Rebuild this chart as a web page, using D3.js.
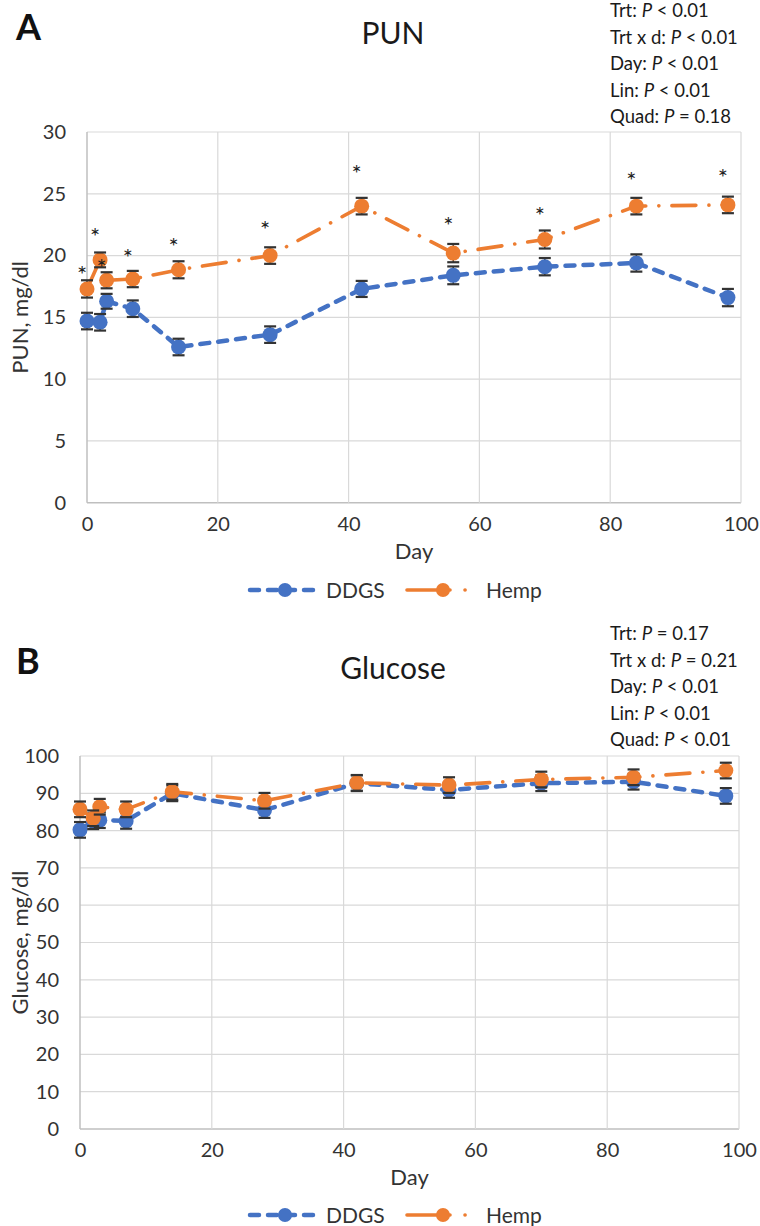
<!DOCTYPE html>
<html><head><meta charset="utf-8">
<script src="https://cdn.jsdelivr.net/npm/d3@7"></script>
<style>
body{margin:0;background:#fff}
svg{display:block}
text{font-family:Lato,"Open Sans",sans-serif}
</style>
</head><body>
<svg id="c" width="760" height="1226"></svg>
<script>
// ---------- DATA ----------
const days = [0, 2, 3, 7, 14, 28, 42, 56, 70, 84, 98];
const seriesNames = ["DDGS", "Hemp"];

const punDDGS    = [14.7, 14.6, 16.3, 15.7, 12.6, 13.6, 17.3, 18.4, 19.1, 19.4, 16.6];
const punDDGSse  = [0.67, 0.67, 0.6, 0.67, 0.67, 0.67, 0.65, 0.72, 0.7, 0.7, 0.7];
const punHemp    = [17.3, 19.65, 18.0, 18.1, 18.85, 20.0, 24.0, 20.2, 21.3, 24.0, 24.1];
const punHempSE  = [0.7, 0.6, 0.65, 0.66, 0.69, 0.67, 0.67, 0.74, 0.73, 0.67, 0.67];
const punStars   = [18.8, 21.9, 19.4, 20.2, 21.1, 22.5, 27.0, 22.8, 23.6, 26.45, 26.7];
const punTicksY  = [0, 5, 10, 15, 20, 25, 30];
const punStats   = [["Trt: ", "P", " < 0.01"], ["Trt x d: ", "P", " < 0.01"], ["Day:  ", "P", " < 0.01"], ["Lin: ", "P", " < 0.01"], ["Quad: ", "P", " = 0.18"]];

const gluDDGS    = [80.2, 82.5, 82.8, 82.6, 90.0, 85.5, 92.7, 90.9, 92.7, 93.1, 89.3];
const gluDDGSse  = [2.1, 2.1, 2.1, 2.1, 2.1, 2.1, 2.1, 2.1, 2.1, 2.1, 2.1];
const gluHemp    = [85.7, 83.3, 86.4, 85.7, 90.4, 88.0, 92.8, 92.2, 93.7, 94.3, 96.1];
const gluHempSE  = [2.1, 2.1, 2.1, 2.1, 2.1, 2.1, 2.1, 2.1, 2.1, 2.1, 2.1];
const gluTicksY  = [0, 10, 20, 30, 40, 50, 60, 70, 80, 90, 100];
const gluStats   = [["Trt: ", "P", " = 0.17"], ["Trt x d: ", "P", " = 0.21"], ["Day:  ", "P", " < 0.01"], ["Lin: ", "P", " < 0.01"], ["Quad: ", "P", " < 0.01"]];

const ticksX = [0, 20, 40, 60, 80, 100];

// ---------- STYLE ----------
const colors = {DDGS: "#4472C4", Hemp: "#ED7D31"};
const dashes = {DDGS: "9,9", Hemp: "24,13,0.1,13"};
const legendDashes = {DDGS: "9,9", Hemp: "43,15,0.1,30"};
const widths = {DDGS: 4.5, Hemp: 3.6};
const txt = "#333";

const svg = d3.select("#c");

function panel(o) {
  const g = svg.append("g");
  const x = d3.scaleLinear().domain([0, 100]).range([o.left, o.right]);
  const y = d3.scaleLinear().domain(o.yDomain).range([o.bottom, o.top]);

  // grid
  g.append("g").selectAll("line").data(o.ticksY).join("line")
    .attr("x1", o.left).attr("x2", o.right)
    .attr("y1", d => y(d)).attr("y2", d => y(d))
    .attr("stroke", d => d === 0 ? "#bfbfbf" : "#d9d9d9").attr("stroke-width", d => d === 0 ? 1.5 : 1.2);
  g.append("g").selectAll("line").data(ticksX).join("line")
    .attr("x1", d => x(d)).attr("x2", d => x(d))
    .attr("y1", o.top).attr("y2", o.bottom)
    .attr("stroke", d => d === 0 ? "#bfbfbf" : "#d9d9d9").attr("stroke-width", d => d === 0 ? 1.5 : 1.2);

  // axes labels via d3 axes
  const ax = g.append("g").attr("transform", `translate(0,${o.bottom})`)
    .call(d3.axisBottom(x).tickValues(ticksX).tickSize(0).tickPadding(14));
  ax.select(".domain").remove();
  ax.selectAll("text").attr("font-size", 20).attr("fill", txt).attr("font-family", "Lato");
  const ay = g.append("g").attr("transform", `translate(${o.left},0)`)
    .call(d3.axisLeft(y).tickValues(o.ticksY).tickSize(0).tickPadding(21));
  ay.select(".domain").remove();
  ay.selectAll("text").attr("font-size", 20).attr("fill", txt).attr("font-family", "Lato");

  // axis titles
  g.append("text").attr("x", (o.left + o.right) / 2).attr("y", o.bottom + 56)
    .attr("text-anchor", "middle").attr("font-size", 22).attr("fill", txt).text("Day");
  g.append("text").attr("transform", `translate(28,${(o.top + o.bottom) / 2}) rotate(-90)`)
    .attr("text-anchor", "middle").attr("font-size", 22).attr("fill", txt).text(o.yTitle);

  // titles
  g.append("text").attr("x", 16).attr("y", o.letterY).attr("font-size", 36).attr("font-weight", "bold")
    .attr("fill", "#111").text(o.letter);
  g.append("text").attr("x", 393).attr("y", o.titleY).attr("text-anchor", "middle")
    .attr("font-size", 30).attr("fill", "#1a1a1a").text(o.title);
  const st = g.append("g");
  o.stats.forEach((s, i) => {
    const t = st.append("text").attr("x", 610).attr("y", o.statsY + i * 26.5).attr("font-size", 18.5).attr("fill", "#1a1a1a");
    t.append("tspan").text(s[0]);
    t.append("tspan").attr("font-style", "italic").text(s[1]);
    t.append("tspan").text(s[2]);
  });

  // series
  const line = d3.line().x(d => x(d[0])).y(d => y(d[1]));
  o.series.forEach(s => {
    const pts = days.map((d, i) => [d, s.values[i], s.se[i]]);
    g.append("path").datum(pts).attr("d", line).attr("fill", "none")
      .attr("stroke", colors[s.name]).attr("stroke-width", widths[s.name])
      .attr("stroke-dasharray", dashes[s.name]).attr("stroke-linecap", "round");
    const eb = g.append("g").attr("stroke", "#333");
    eb.selectAll("line.v").data(pts).join("line").attr("class", "v")
      .attr("x1", d => x(d[0])).attr("x2", d => x(d[0]))
      .attr("y1", d => y(d[1] - d[2])).attr("y2", d => y(d[1] + d[2])).attr("stroke-width", 1.5);
    g.append("g").selectAll("circle").data(pts).join("circle")
      .attr("cx", d => x(d[0])).attr("cy", d => y(d[1])).attr("r", 7.5)
      .attr("fill", colors[s.name]);
    const caps = g.append("g").attr("stroke", "#333").attr("stroke-width", 2.2);
    [-1, 1].forEach(sg => {
      caps.selectAll("line.c" + (sg > 0 ? "p" : "m")).data(pts).join("line").attr("class", "c" + (sg > 0 ? "p" : "m"))
        .attr("x1", d => x(d[0]) - 6).attr("x2", d => x(d[0]) + 6)
        .attr("y1", d => y(d[1] + sg * d[2])).attr("y2", d => y(d[1] + sg * d[2]));
    });
  });

  if (o.stars) {
    g.append("g").selectAll("text").data(o.stars).join("text")
      .attr("x", (d, i) => x(days[i]) - 5).attr("y", d => y(d) + 13)
      .attr("text-anchor", "middle").attr("font-size", 24).attr("fill", "#222").text("*");
  }

  // legend
  const lg = g.append("g").attr("transform", `translate(0,${o.legendY})`);
  const items = [{name: "DDGS", x0: 250, x1: 320, cx: 285, tx: 326}, {name: "Hemp", x0: 407, x1: 468, cx: 443, tx: 486}];
  items.forEach(it => {
    lg.append("line").attr("x1", it.x0).attr("x2", it.x1).attr("y1", 0).attr("y2", 0)
      .attr("stroke", colors[it.name]).attr("stroke-width", widths[it.name])
      .attr("stroke-dasharray", legendDashes[it.name]).attr("stroke-linecap", "round");
    lg.append("circle").attr("cx", it.cx).attr("cy", 0).attr("r", 7).attr("fill", colors[it.name]);
    lg.append("text").attr("x", it.tx).attr("y", 7.5).attr("font-size", 21).attr("fill", txt).text(it.name);
  });
}

panel({
  left: 87, right: 741, top: 132, bottom: 502.7, yDomain: [0, 30], ticksY: punTicksY,
  yTitle: "PUN, mg/dl", letter: "A", letterY: 40, title: "PUN", titleY: 44, stats: punStats, statsY: 17,
  series: [{name: "DDGS", values: punDDGS, se: punDDGSse}, {name: "Hemp", values: punHemp, se: punHempSE}],
  stars: punStars, legendY: 590
});
panel({
  left: 80, right: 739, top: 756, bottom: 1129, yDomain: [0, 100], ticksY: gluTicksY,
  yTitle: "Glucose, mg/dl", letter: "B", letterY: 674, title: "Glucose", titleY: 679, stats: gluStats, statsY: 640,
  series: [{name: "DDGS", values: gluDDGS, se: gluDDGSse}, {name: "Hemp", values: gluHemp, se: gluHempSE}],
  stars: null, legendY: 1215
});
</script>
</body></html>
